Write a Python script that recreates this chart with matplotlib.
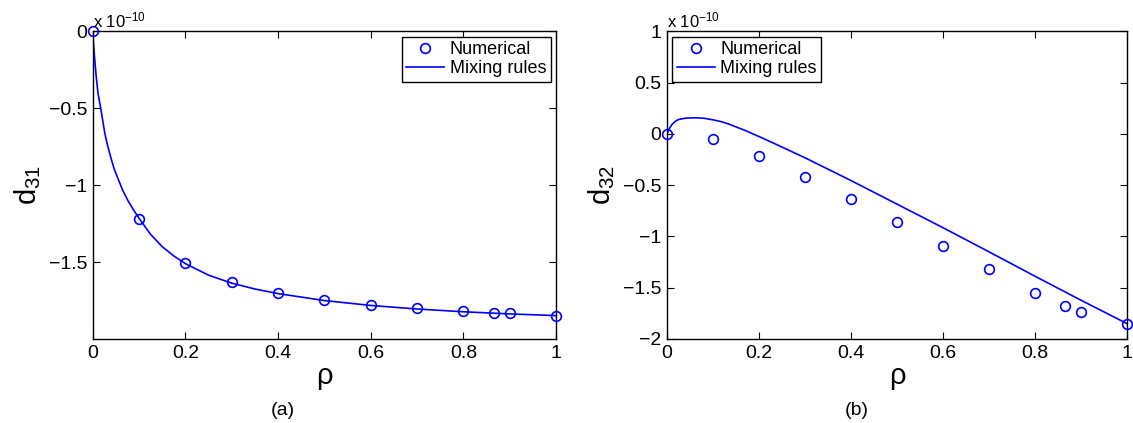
import matplotlib
matplotlib.use("Agg")
import matplotlib.pyplot as plt
from matplotlib.ticker import FuncFormatter

plt.rcParams['font.family'] = ['Liberation Sans', 'DejaVu Sans']
plt.rcParams['mathtext.fontset'] = 'custom'
plt.rcParams['mathtext.rm'] = 'Liberation Sans'
plt.rcParams['mathtext.it'] = 'Liberation Sans'

# values in units of 1e-10
rho_num = [0, 0.1, 0.2, 0.3, 0.4, 0.5, 0.6, 0.7, 0.8, 0.866, 0.9, 1.0]
d31_num = [0, -1.221, -1.506, -1.632, -1.701, -1.747, -1.777, -1.801, -1.820, -1.829, -1.833, -1.848]
d32_num = [0, -0.052, -0.215, -0.417, -0.632, -0.857, -1.091, -1.322, -1.547, -1.674, -1.733, -1.850]

rho_mix31 = [0, 0.002, 0.0043, 0.0075, 0.0114, 0.0173, 0.026, 0.032, 0.040, 0.047, 0.055,
             0.065, 0.076, 0.088, 0.1, 0.125, 0.15, 0.175, 0.2, 0.25,
             0.3, 0.35, 0.4, 0.5, 0.6, 0.7, 0.8, 0.9, 1.0]
d31_mix = [0, -0.09, -0.18, -0.29, -0.40, -0.50, -0.66, -0.74, -0.83, -0.90, -0.96,
           -1.035, -1.10, -1.16, -1.215, -1.32, -1.40, -1.46, -1.51, -1.585,
           -1.637, -1.675, -1.705, -1.75, -1.782, -1.805, -1.823, -1.837, -1.848]

rho_mix32 = [0, 0.005, 0.011, 0.018, 0.025, 0.04, 0.061, 0.08, 0.1, 0.117, 0.133, 0.15,
             0.169, 0.2, 0.241, 0.3, 0.4, 0.5, 0.6, 0.7, 0.8, 0.9, 1.0]
d32_mix = [0, 0.05, 0.093, 0.122, 0.140, 0.153, 0.157, 0.152, 0.137, 0.12, 0.098, 0.068,
           0.035, -0.026, -0.11, -0.233, -0.455, -0.685, -0.915, -1.15, -1.388, -1.622, -1.85]

xticks = [0, 0.2, 0.4, 0.6, 0.8, 1]


def fmt(v, pos):
    return ('%g' % v).replace('-', '\u2212')


fig = plt.figure(figsize=(11.33, 4.23), dpi=100)
ax1 = fig.add_axes([0.0818, 0.1986, 0.409, 0.7274])
ax2 = fig.add_axes([0.5887, 0.1986, 0.4060, 0.7274])


def style(ax, ylab, yticks, ylim, legloc):
    ax.set_xlim(0, 1)
    ax.set_ylim(*ylim)
    ax.set_xticks(xticks)
    ax.set_yticks(yticks)
    ax.xaxis.set_major_formatter(FuncFormatter(fmt))
    ax.yaxis.set_major_formatter(FuncFormatter(fmt))
    ax.tick_params(direction='in', top=True, right=True, length=5, width=0.8,
                   labelsize=14, pad=4)
    for s in ax.spines.values():
        s.set_linewidth(1.0)
    ax.set_xlabel('ρ', fontsize=21, labelpad=0)
    ax.set_ylabel(ylab, fontsize=21, labelpad=4)
    ax.text(0.0, 1.003, 'x 10$^{-10}$', transform=ax.transAxes, fontsize=12,
            ha='left', va='bottom')
    leg = ax.legend(loc=legloc, fontsize=13, fancybox=False, framealpha=1,
                    edgecolor='black', borderaxespad=0.3, handlelength=2.1,
                    handletextpad=0.3, labelspacing=0.1, borderpad=0.25)
    leg.get_frame().set_linewidth(1.0)


ax1.plot(rho_num, d31_num, 'o', mfc='none', mec='blue', mew=1.2, ms=7,
         label='Numerical', clip_on=False, zorder=3)
ax1.plot(rho_mix31, d31_mix, '-', color='blue', lw=1.2, label='Mixing rules')
style(ax1, 'd$_{31}$', [-1.5, -1, -0.5, 0], (-2, 0), 'upper right')

ax2.plot(rho_num, d32_num, 'o', mfc='none', mec='blue', mew=1.2, ms=7,
         label='Numerical', clip_on=False, zorder=3)
ax2.plot(rho_mix32, d32_mix, '-', color='blue', lw=1.2, label='Mixing rules')
style(ax2, 'd$_{32}$', [-2, -1.5, -1, -0.5, 0, 0.5, 1], (-2, 1), 'upper left')

fig.text(283 / 1133, 1 - 410 / 423, '(a)', fontsize=14, ha='center', va='center')
fig.text(857 / 1133, 1 - 410 / 423, '(b)', fontsize=14, ha='center', va='center')

fig.savefig('out.png', dpi=100)
